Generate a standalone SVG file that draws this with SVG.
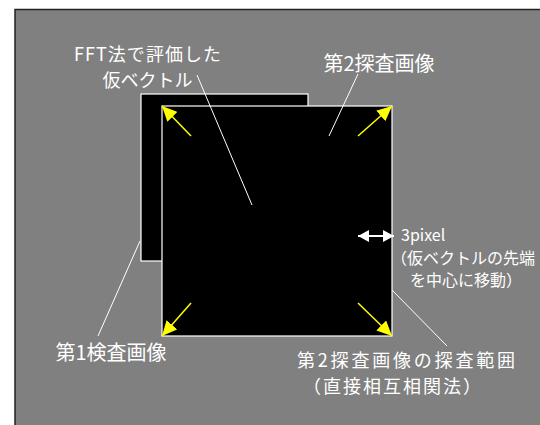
<svg xmlns="http://www.w3.org/2000/svg" width="540" height="425" viewBox="0 0 540 425">
<style>
.lbl{font-family:"Noto Sans CJK JP","Noto Sans",sans-serif;fill:#ffffff;font-size:20px}
.md{font-size:18px}
.sm{font-size:16px}
.lead{stroke:#ffffff;stroke-width:1;fill:none}
.ya{stroke:#ffff00;stroke-width:1.5;fill:none;marker-end:url(#yh)}
.img{fill:#000000;stroke:#ffffff;stroke-width:1.2}
</style>
<defs>
<marker id="yh" markerUnits="userSpaceOnUse" markerWidth="16" markerHeight="14" refX="15" refY="7" orient="auto">
<path d="M0,0 L15,7 L0,14 Z" fill="#ffff00"/>
</marker>
<marker id="wh" markerUnits="userSpaceOnUse" markerWidth="12" markerHeight="12" refX="11" refY="6" orient="auto-start-reverse">
<path d="M0,0 L11,6 L0,12 Z" fill="#ffffff"/>
</marker>
</defs>
<rect x="0" y="0" width="540" height="425" fill="#ffffff"/>
<rect id="panel" x="15" y="9.5" width="540" height="430" fill="#808080" stroke="#222222" stroke-width="1.5"/>
<g id="image1"><rect class="img" x="141" y="94" width="167" height="167"/></g>
<g id="image2"><rect class="img" x="162" y="106" width="230" height="230"/></g>
<g id="connectors">
<line class="ya" x1="191" y1="136" x2="162" y2="106"/>
<line class="ya" x1="358" y1="136" x2="392" y2="106"/>
<line class="ya" x1="191" y1="303" x2="162" y2="336"/>
<line class="ya" x1="358" y1="303" x2="392" y2="336"/>
<line x1="358" y1="236" x2="394" y2="236" stroke="#ffffff" stroke-width="2" marker-start="url(#wh)" marker-end="url(#wh)"/>
<line class="lead" x1="197" y1="75" x2="252" y2="205"/>
<line class="lead" x1="358" y1="74" x2="329" y2="136"/>
<line class="lead" x1="140" y1="241" x2="98" y2="336"/>
<line class="lead" x1="392" y1="290" x2="447" y2="346"/>
</g>
<g id="label-vector">
<text class="lbl md" x="147.5" y="61" text-anchor="middle" textLength="147">FFT法で評価した</text>
<text class="lbl md" x="147.5" y="87" text-anchor="middle">仮ベクトル</text>
</g>
<g id="label-image2"><text class="lbl" x="379" y="71" text-anchor="middle">第2探査画像</text></g>
<g id="label-image1"><text class="lbl" x="111" y="360" text-anchor="middle">第1検査画像</text></g>
<g id="label-range">
<text class="lbl md" x="297" y="367" textLength="218">第2探査画像の探査範囲</text>
<text class="lbl md" x="303" y="393" textLength="178">（直接相互相関法）</text>
</g>
<g id="label-3pixel">
<text class="lbl sm" x="401" y="241">3pixel</text>
<text class="lbl sm" x="391" y="264">（仮ベクトルの先端</text>
<text class="lbl sm" x="410" y="286">を中心に移動）</text>
</g>
</svg>
